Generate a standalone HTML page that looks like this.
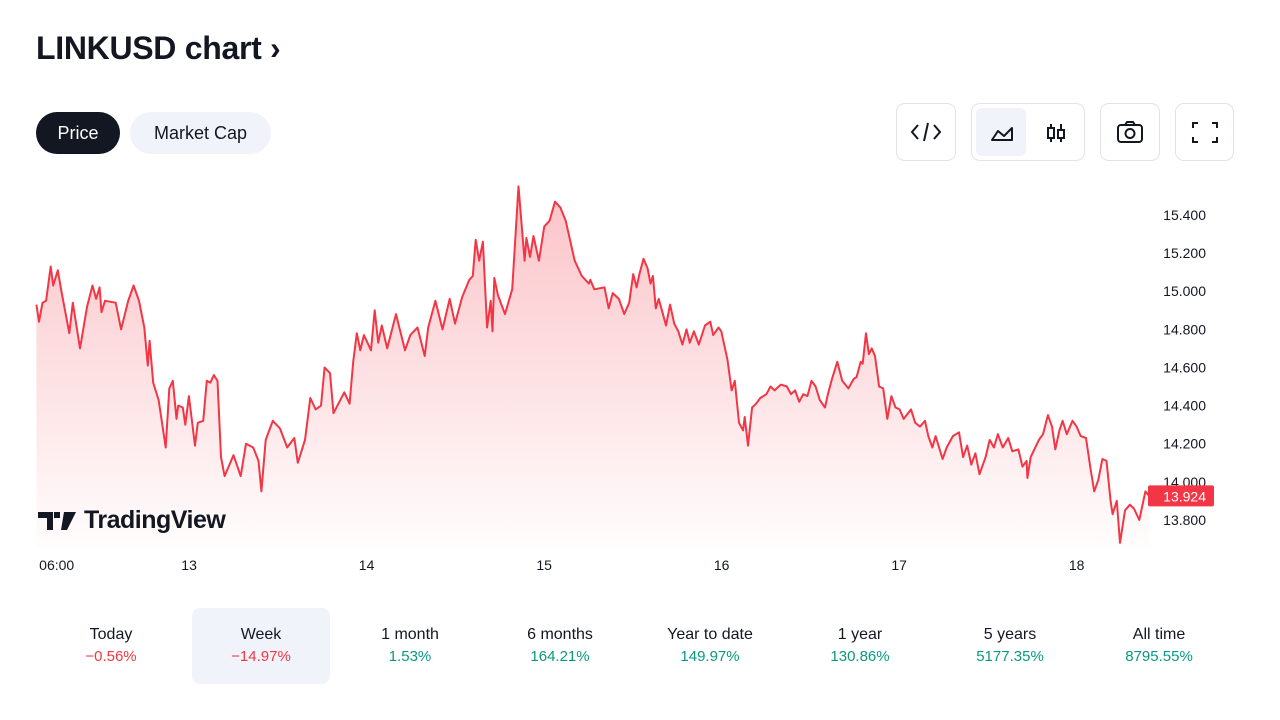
<!DOCTYPE html>
<html><head><meta charset="utf-8">
<style>
body{margin:0;width:1280px;height:720px;background:#fff;font-family:"Liberation Sans",sans-serif;color:#131722;overflow:hidden;position:relative}
.title{position:absolute;left:36px;top:30px;font-size:32px;font-weight:bold;letter-spacing:-0.3px}
.pill{position:absolute;top:112px;height:42px;border-radius:21px;font-size:18px;line-height:42px;text-align:center}
.btn{position:absolute;top:103px;height:58px;border:1px solid #e0e3eb;border-radius:9px;box-sizing:border-box}
.stat{position:absolute;top:608px;width:138px;height:76px;text-align:center;border-radius:8px}
.stat .l{margin-top:18px;font-size:16px}
.stat .v{margin-top:4px;font-size:15px}
.red{color:#f23645}.green{color:#089981}
</style></head><body>
<div class="title">LINKUSD chart ›</div>
<div class="pill" style="left:36px;width:84px;background:#131722;color:#fff">Price</div>
<div class="pill" style="left:130px;width:141px;background:#f0f3fa">Market Cap</div>

<div class="btn" style="left:896px;width:60px">
<svg width="58" height="56"><path d="M21 21l-6 7 6 7M37 21l6 7-6 7M31 19l-4 18" stroke="#131722" stroke-width="2" fill="none"/></svg></div>
<div class="btn" style="left:971px;width:114px">
<div style="position:absolute;left:4px;top:4px;width:50px;height:48px;background:#f0f3fa;border-radius:6px">
<svg width="50" height="48"><path d="M16 32l6-9 6 5 8-8v12z" stroke="#131722" stroke-width="2" fill="none" stroke-linejoin="round"/></svg></div>
<div style="position:absolute;left:60px;top:4px;width:50px;height:48px">
<svg width50="" width="50" height="48"><path d="M19 16v18M29 16v18" stroke="#131722" stroke-width="2"/><rect x="16" y="20" width="6" height="10" fill="#fff" stroke="#131722" stroke-width="2"/><rect x="26" y="22" width="6" height="8" fill="#fff" stroke="#131722" stroke-width="2"/></svg></div></div>
<div class="btn" style="left:1100px;width:60px">
<svg width="58" height="56"><rect x="17" y="21" width="24" height="17" rx="3" stroke="#131722" stroke-width="2" fill="none"/><path d="M24 21l2-3h6l2 3" stroke="#131722" stroke-width="2" fill="none"/><circle cx="29" cy="29.5" r="4.5" stroke="#131722" stroke-width="2" fill="none"/></svg></div>
<div class="btn" style="left:1175px;width:59px">
<svg width="58" height="56"><path d="M17 24v-5h5M36 19h5v5M41 33v5h-5M22 38h-5v-5" stroke="#131722" stroke-width="2" fill="none"/></svg></div>

<svg id="chart" width="1280" height="600" style="position:absolute;left:0;top:0">
<defs><linearGradient id="g" x1="0" y1="0" x2="0" y2="1"><stop offset="0" stop-color="#f23645" stop-opacity="0.3"/><stop offset="1" stop-color="#f23645" stop-opacity="0.01"/></linearGradient></defs>
</svg>
<div style="position:absolute;left:38px;top:506px;font-size:25px;font-weight:bold;letter-spacing:-0.5px;display:flex;align-items:center">
<svg width="40" height="22"><path d="M0 2h15v18h-6V8H0z M16 2h6v6h-6z M26 2h12l-9 18h-6z" fill="#131722"/></svg><span style="margin-left:6px">TradingView</span></div>

<div class="stat" style="left:42px"><div class="l">Today</div><div class="v red">−0.56%</div></div>
<div class="stat" style="left:192px;background:#f0f3fa"><div class="l">Week</div><div class="v red">−14.97%</div></div>
<div class="stat" style="left:341px"><div class="l">1 month</div><div class="v green">1.53%</div></div>
<div class="stat" style="left:491px"><div class="l">6 months</div><div class="v green">164.21%</div></div>
<div class="stat" style="left:641px"><div class="l">Year to date</div><div class="v green">149.97%</div></div>
<div class="stat" style="left:791px"><div class="l">1 year</div><div class="v green">130.86%</div></div>
<div class="stat" style="left:941px"><div class="l">5 years</div><div class="v green">5177.35%</div></div>
<div class="stat" style="left:1090px"><div class="l">All time</div><div class="v green">8795.55%</div></div>

<script>
const hours=[0.06,0.4,0.88,1.36,1.99,2.33,2.95,3.44,4.5,4.98,5.95,6.91,7.64,8.12,8.6,8.85,9.33,10.78,11.5,12.47,13.19,13.92,14.64,15.12,15.36,15.85,16.57,17.54,18.02,18.5,18.99,19.23,19.85,20.19,20.67,21.5,21.88,22.61,23.09,23.57,24.06,24.54,25.02,25.5,26.71,27.68,28.4,29.37,30.09,30.48,31.06,32.02,32.99,33.96,34.92,35.4,36.37,37.09,37.82,38.54,39.02,39.75,40.23,41.68,42.4,42.89,43.37,43.85,44.34,45.3,45.79,46.27,46.75,47.48,48.68,49.89,50.61,51.58,52.55,53.03,54,54.96,55.93,56.65,57.62,58.58,59.06,59.45,59.93,60.42,60.99,61.48,61.72,61.96,62.45,63.41,64.38,65.24,66.06,66.3,66.79,67.27,67.99,68.72,69.44,70.17,70.89,71.62,72.83,73.79,74.75,74.94,75.49,76.87,77.43,77.98,78.81,79.53,80.2,80.75,81.2,81.58,82.14,82.69,83.08,83.41,83.8,84.19,84.63,85.18,85.74,86.29,86.85,87.4,87.95,88.4,88.95,89.62,90.45,91.17,91.56,92.28,92.66,93.49,94.05,94.49,95.05,95.6,95.82,96.27,96.82,97.37,97.93,98.76,99.31,99.87,100.7,101.53,102.08,102.64,103.19,103.74,104.3,104.85,105.41,105.96,106.68,107.07,107.62,108.34,109.01,109.84,110.56,110.95,111.5,111.78,112.22,112.61,113,113.44,114,114.55,115.1,115.66,116.21,116.76,117.32,118.31,118.87,119.53,120.2,120.64,121.2,121.64,122.58,123.14,123.97,124.8,125.35,125.91,126.46,127.01,127.57,128.4,128.95,129.51,130.06,130.72,131.45,132,132.83,133.38,133.94,134.05,134.49,135.6,136.15,136.82,137.37,137.82,138.37,138.81,139.37,140.14,140.7,141.25,141.97,142.53,143.08,143.63,144.19,144.74,145.3,145.57,146.13,146.57,147.24,147.9,148.45,149.17,150,150.56];
const prices=[14.93,14.84,14.94,14.95,15.13,15.03,15.11,15.0,14.78,14.94,14.7,14.92,15.03,14.96,15.02,14.89,14.95,14.94,14.8,14.95,15.03,14.95,14.81,14.61,14.74,14.52,14.43,14.18,14.49,14.53,14.33,14.4,14.39,14.3,14.45,14.19,14.31,14.32,14.53,14.52,14.56,14.53,14.13,14.03,14.14,14.03,14.2,14.18,14.11,13.95,14.22,14.32,14.28,14.18,14.23,14.1,14.22,14.44,14.38,14.4,14.6,14.57,14.36,14.47,14.41,14.63,14.78,14.69,14.77,14.69,14.9,14.73,14.82,14.7,14.88,14.69,14.77,14.81,14.66,14.81,14.95,14.8,14.96,14.83,14.97,15.06,15.08,15.27,15.16,15.26,14.81,14.95,14.79,15.07,14.98,14.88,15.01,15.55,15.16,15.28,15.18,15.29,15.16,15.34,15.37,15.47,15.44,15.37,15.16,15.08,15.04,15.06,15.01,15.02,14.91,14.99,14.96,14.88,14.94,15.09,15.02,15.09,15.17,15.12,15.04,15.08,14.91,14.96,14.9,14.82,14.93,14.83,14.79,14.72,14.8,14.73,14.79,14.72,14.82,14.84,14.77,14.81,14.79,14.64,14.48,14.53,14.31,14.27,14.34,14.19,14.39,14.41,14.44,14.46,14.5,14.48,14.51,14.5,14.46,14.48,14.42,14.46,14.45,14.53,14.5,14.43,14.39,14.46,14.54,14.63,14.53,14.49,14.54,14.55,14.63,14.62,14.78,14.67,14.7,14.66,14.5,14.49,14.33,14.45,14.39,14.38,14.33,14.38,14.31,14.29,14.32,14.24,14.18,14.24,14.12,14.18,14.24,14.26,14.13,14.19,14.09,14.15,14.04,14.13,14.22,14.18,14.25,14.18,14.23,14.16,14.17,14.08,14.11,14.02,14.13,14.22,14.25,14.35,14.29,14.17,14.27,14.32,14.25,14.32,14.29,14.24,14.23,14.08,13.95,14.01,14.12,14.11,13.9,13.83,13.9,13.68,13.85,13.88,13.86,13.8,13.95,13.924];
const yTicks=[15.4,15.2,15.0,14.8,14.6,14.4,14.2,14.0,13.8];
const xTickHours=[2.8,20.7,44.7,68.7,92.7,116.7,140.7];
const xTickLabels=["06:00","13","14","15","16","17","18"];
const lastPrice=13.924;

const X=h=>36+h*7.396;
const Y=p=>215+(15.4-p)*190.6;
const svg=document.getElementById('chart');
const NS='http://www.w3.org/2000/svg';
function mk(t,a){const e=document.createElementNS(NS,t);for(const k in a)e.setAttribute(k,a[k]);svg.appendChild(e);return e;}
let d='';hours.forEach((h,i)=>{d+=(i?'L':'M')+X(hours[i]).toFixed(1)+' '+Y(prices[i]).toFixed(1);});
const bottom=548;
const area=mk('path',{d:d+'L'+X(hours[hours.length-1])+' '+bottom+'L'+X(hours[0])+' '+bottom+'Z',fill:'url(#g)'});


const line=mk('path',{d:d,fill:'none',stroke:'#f23645','stroke-width':2,'stroke-linejoin':'round'});


yTicks.forEach(v=>{const t=mk('text',{x:1206,y:Y(v)+5,'text-anchor':'end','font-size':14,fill:'#131722','font-family':'Liberation Sans, sans-serif'});t.textContent=v.toFixed(3);

});
xTickHours.forEach((h,i)=>{const t=mk('text',{x:X(h),y:570,'text-anchor':'middle','font-size':14,fill:'#131722','font-family':'Liberation Sans, sans-serif'});t.textContent=xTickLabels[i];

});
const r=mk('rect',{x:1148,y:Y(lastPrice)-11,width:66,height:21,rx:2,fill:'#f23645'});


const lt=mk('text',{x:1206,y:Y(lastPrice)+5,'text-anchor':'end','font-size':14,fill:'#fff','font-family':'Liberation Sans, sans-serif'});lt.textContent=lastPrice.toFixed(3);


</script>
</body></html>
